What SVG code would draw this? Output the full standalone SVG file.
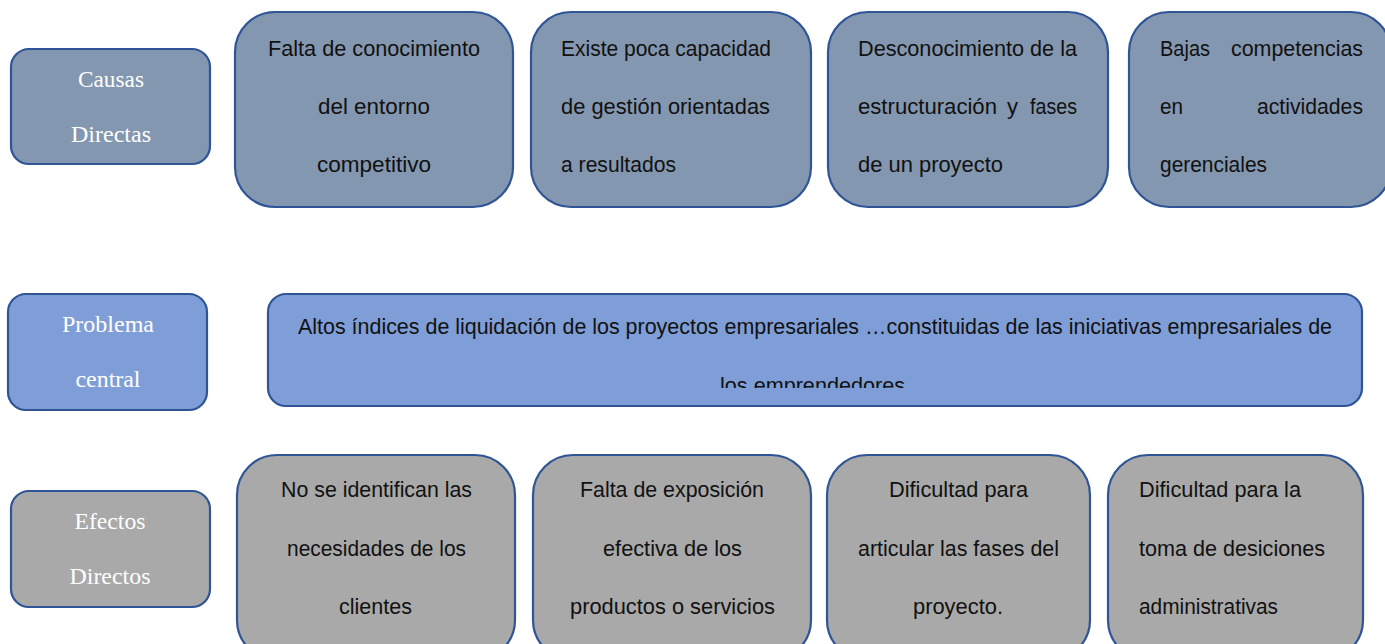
<svg xmlns="http://www.w3.org/2000/svg" width="1385" height="644" viewBox="0 0 1385 644">
<style>
.c{fill:#8497B0;stroke:#2F5597;stroke-width:2.2}
.p{fill:#7F9ED7;stroke:#2F5597;stroke-width:2.2}
.g{fill:#A9A9A9;stroke:#2F5597;stroke-width:2.2}
.t{font-family:"Liberation Sans",Arial,sans-serif;font-size:22px;fill:#111}
.l{font-family:"Liberation Serif","Times New Roman",serif;font-size:23px;fill:#fff}
.m{text-anchor:middle}
.e{text-anchor:end}
</style>
<defs>
<clipPath id="pc"><rect x="268" y="294" width="1094" height="94"/></clipPath>
</defs>
<g id="causas-label">
<rect class="c" x="11" y="49" width="199" height="115" rx="18"/>
<text class="l m" x="111" y="87" textLength="66" lengthAdjust="spacingAndGlyphs">Causas</text>
<text class="l m" x="111" y="142" textLength="80" lengthAdjust="spacingAndGlyphs">Directas</text>
</g>
<g id="causa1">
<rect class="c" x="235" y="12" width="278" height="195" rx="40"/>
<text class="t m" x="374" y="56" textLength="212" lengthAdjust="spacingAndGlyphs">Falta de conocimiento</text>
<text class="t m" x="374" y="114" textLength="112" lengthAdjust="spacingAndGlyphs">del entorno</text>
<text class="t m" x="374" y="172" textLength="114" lengthAdjust="spacingAndGlyphs">competitivo</text>
</g>
<g id="causa2">
<rect class="c" x="531" y="12" width="280" height="195" rx="40"/>
<text class="t" x="561" y="56" textLength="210" lengthAdjust="spacingAndGlyphs">Existe poca capacidad</text>
<text class="t" x="561" y="114" textLength="209" lengthAdjust="spacingAndGlyphs">de gestión orientadas</text>
<text class="t" x="561" y="172" textLength="115" lengthAdjust="spacingAndGlyphs">a resultados</text>
</g>
<g id="causa3">
<rect class="c" x="828" y="12" width="280" height="195" rx="40"/>
<text class="t" x="858" y="56" textLength="219" lengthAdjust="spacingAndGlyphs">Desconocimiento de la</text>
<text class="t" x="858" y="114" textLength="139" lengthAdjust="spacingAndGlyphs">estructuración</text>
<text class="t" x="1007" y="114">y</text>
<text class="t" x="1030" y="114" textLength="47" lengthAdjust="spacingAndGlyphs">fases</text>
<text class="t" x="858" y="172" textLength="145" lengthAdjust="spacingAndGlyphs">de un proyecto</text>
</g>
<g id="causa4">
<rect class="c" x="1129" y="12" width="262" height="195" rx="40"/>
<text class="t" x="1160" y="56" textLength="50" lengthAdjust="spacingAndGlyphs">Bajas</text>
<text class="t" x="1231" y="56" textLength="132" lengthAdjust="spacingAndGlyphs">competencias</text>
<text class="t" x="1160" y="114" textLength="23" lengthAdjust="spacingAndGlyphs">en</text>
<text class="t" x="1257" y="114" textLength="106" lengthAdjust="spacingAndGlyphs">actividades</text>
<text class="t" x="1160" y="172" textLength="107" lengthAdjust="spacingAndGlyphs">gerenciales</text>
</g>
<g id="problema-label">
<rect class="p" x="8" y="294" width="199" height="116" rx="18"/>
<text class="l m" x="108" y="332" textLength="92" lengthAdjust="spacingAndGlyphs">Problema</text>
<text class="l m" x="108" y="387" textLength="65" lengthAdjust="spacingAndGlyphs">central</text>
</g>
<g id="problema">
<rect class="p" x="268" y="294" width="1094" height="112" rx="18"/>
<g clip-path="url(#pc)">
<text class="t" x="298" y="334" textLength="1034" lengthAdjust="spacingAndGlyphs">Altos índices de liquidación de los proyectos empresariales …constituidas de las iniciativas empresariales de</text>
<text class="t" x="720" y="393" textLength="185" lengthAdjust="spacingAndGlyphs">los emprendedores</text>
</g>
</g>
<g id="efectos-label">
<rect class="g" x="11" y="491" width="199" height="116" rx="18"/>
<text class="l m" x="110" y="529" textLength="71" lengthAdjust="spacingAndGlyphs">Efectos</text>
<text class="l m" x="110" y="584" textLength="81" lengthAdjust="spacingAndGlyphs">Directos</text>
</g>
<g id="efecto1">
<rect class="g" x="237" y="455" width="278" height="205" rx="40"/>
<text class="t" x="281" y="497" textLength="191" lengthAdjust="spacingAndGlyphs">No se identifican las</text>
<text class="t" x="287" y="556" textLength="179" lengthAdjust="spacingAndGlyphs">necesidades de los</text>
<text class="t" x="339" y="614" textLength="73" lengthAdjust="spacingAndGlyphs">clientes</text>
</g>
<g id="efecto2">
<rect class="g" x="533" y="455" width="278" height="205" rx="40"/>
<text class="t" x="580" y="497" textLength="184" lengthAdjust="spacingAndGlyphs">Falta de exposición</text>
<text class="t" x="603" y="556" textLength="139" lengthAdjust="spacingAndGlyphs">efectiva de los</text>
<text class="t" x="570" y="614" textLength="205" lengthAdjust="spacingAndGlyphs">productos o servicios</text>
</g>
<g id="efecto3">
<rect class="g" x="827" y="455" width="263" height="205" rx="40"/>
<text class="t" x="889" y="497" textLength="139" lengthAdjust="spacingAndGlyphs">Dificultad para</text>
<text class="t" x="858" y="556" textLength="201" lengthAdjust="spacingAndGlyphs">articular las fases del</text>
<text class="t" x="913" y="614" textLength="90" lengthAdjust="spacingAndGlyphs">proyecto.</text>
</g>
<g id="efecto4">
<rect class="g" x="1108" y="455" width="255" height="205" rx="40"/>
<text class="t" x="1139" y="497" textLength="162" lengthAdjust="spacingAndGlyphs">Dificultad para la</text>
<text class="t" x="1139" y="556" textLength="186" lengthAdjust="spacingAndGlyphs">toma de desiciones</text>
<text class="t" x="1139" y="614" textLength="139" lengthAdjust="spacingAndGlyphs">administrativas</text>
</g>
<g id="connectors"/>
</svg>
